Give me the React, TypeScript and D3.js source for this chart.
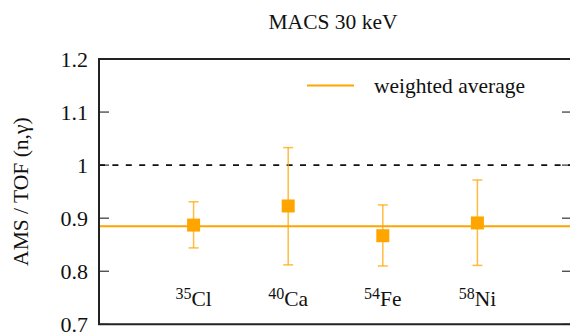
import React from 'react';
import * as d3 from 'd3';

// chart data
const elements = ['Cl', 'Ca', 'Fe', 'Ni'];
const massNumbers = ['35', '40', '54', '58'];
const ratios = [0.887, 0.923, 0.867, 0.891];
const errLow = [0.844, 0.812, 0.81, 0.811];
const errHigh = [0.931, 1.033, 0.925, 0.972];
const weightedAverage = 0.885;
const yTicks = [0.7, 0.8, 0.9, 1.0, 1.1, 1.2];

const W = 570;
const H = 334;
const left = 99;
const right = 572;
const top = 59;
const bottom = 324.3;
const font = "'Liberation Serif', serif";
const orange = '#FFA500';

const App = () => {
  const x = d3.scaleLinear().domain([0, elements.length + 1]).range([left, right]);
  const y = d3.scaleLinear().domain([0.7, 1.2]).range([bottom, top]);

  const fmt = (v: number) => (v === 1 ? '1' : d3.format('.1f')(v));

  return (
    <svg width={W} height={H} style={{ position: 'absolute', left: 0, top: 0, fontFamily: font }}>
      <rect width={W} height={H} fill="white" />

      {/* title */}
      <text x={333} y={29} fontSize={21.5} textAnchor="middle" fill="#111">MACS 30 keV</text>

      {/* y axis label */}
      <text
        transform={`translate(${28},${(top + bottom) / 2}) rotate(-90)`}
        fontSize={21.5}
        textAnchor="middle"
        fill="#111"
      >
        AMS / TOF (n,γ)
      </text>

      {/* ticks */}
      {yTicks.map(t => (
        <g key={t}>
          <line x1={left} x2={left + 10} y1={y(t)} y2={y(t)} stroke="#333" strokeWidth={1.2} />
          <line x1={right - 10} x2={right} y1={y(t)} y2={y(t)} stroke="#333" strokeWidth={1.2} />
          <text x={left - 11} y={y(t) + 7.5} fontSize={22} textAnchor="end" fill="#111">{fmt(t)}</text>
        </g>
      ))}

      {/* reference line at 1 */}
      <line
        x1={left}
        x2={right}
        y1={y(1)}
        y2={y(1)}
        stroke="#111"
        strokeWidth={1.6}
        strokeDasharray="6,7.4"
      />

      {/* weighted average */}
      <line x1={left} x2={right} y1={y(weightedAverage)} y2={y(weightedAverage)} stroke={orange} strokeWidth={2} />

      {/* error bars and points */}
      {elements.map((el, i) => {
        const cx = x(i + 1);
        return (
          <g key={el}>
            <g stroke={orange} strokeOpacity={0.75} strokeWidth={1.5}>
              <line x1={cx} x2={cx} y1={y(errLow[i])} y2={y(errHigh[i])} />
              <line x1={cx - 5} x2={cx + 5} y1={y(errLow[i])} y2={y(errLow[i])} />
              <line x1={cx - 5} x2={cx + 5} y1={y(errHigh[i])} y2={y(errHigh[i])} />
            </g>
            <rect x={cx - 6.5} y={y(ratios[i]) - 6.5} width={13} height={13} fill={orange} />
            <text x={cx} y={306} fontSize={21.5} textAnchor="middle" fill="#111">
              <tspan fontSize={16} dy={-7}>{massNumbers[i]}</tspan>
              <tspan dy={7}>{el}</tspan>
            </text>
          </g>
        );
      })}

      {/* legend */}
      <line x1={307} x2={354} y1={85.5} y2={85.5} stroke={orange} strokeWidth={2} />
      <text x={374} y={93} fontSize={21.5} fill="#111">weighted average</text>

      {/* frame */}
      <path
        d={`M${right},${top}H${left}V${bottom}H${right}`}
        fill="none"
        stroke="#222"
        strokeWidth={2}
      />
      <line x1={right} x2={right} y1={top} y2={bottom} stroke="#222" strokeWidth={2} />
    </svg>
  );
};

export default App;
